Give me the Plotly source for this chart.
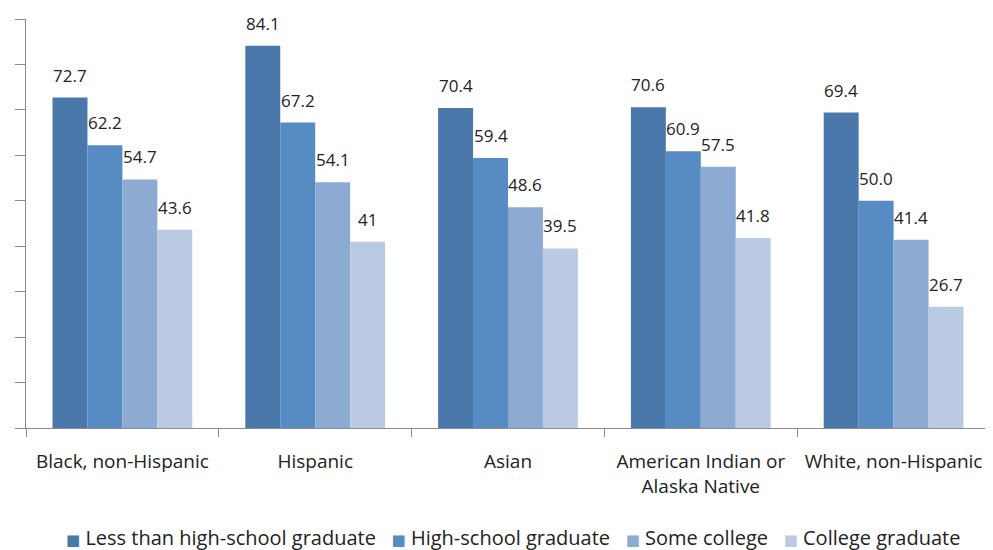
import plotly.graph_objects as go

categories = ["Black, non-Hispanic", "Hispanic", "Asian", "American Indian or<br>Alaska Native", "White, non-Hispanic"]
series_names = ["Less than high-school graduate", "High-school graduate", "Some college", "College graduate"]
less_than_hs = [72.7, 84.1, 70.4, 70.6, 69.4]
hs_grad = [62.2, 67.2, 59.4, 60.9, 50.0]
some_college = [54.7, 54.1, 48.6, 57.5, 41.4]
college_grad = [43.6, 41, 39.5, 41.8, 26.7]
label_text = [
    ["72.7", "84.1", "70.4", "70.6", "69.4"],
    ["62.2", "67.2", "59.4", "60.9", "50.0"],
    ["54.7", "54.1", "48.6", "57.5", "41.4"],
    ["43.6", "41", "39.5", "41.8", "26.7"],
]
colors = ["#4A78AA", "#568BC3", "#8DAAD3", "#BACAE3"]

series = [less_than_hs, hs_grad, some_college, college_grad]
FONT = "Open Sans, sans-serif"
TXT = "#222222"

fig = go.Figure()
for name, vals, col in zip(series_names, series, colors):
    fig.add_trace(go.Bar(name=name, x=categories, y=vals, marker=dict(color=col, line=dict(width=0)),
                         hoverinfo="skip", showlegend=False))

bargap = 0.275
w = (1 - bargap) / 4
annotations = []
for j, (vals, texts) in enumerate(zip(series, label_text)):
    for i, (v, t) in enumerate(zip(vals, texts)):
        annotations.append(dict(x=i + (j - 1.5) * w, y=v, xref="x", yref="y", text=t, showarrow=False,
                                yanchor="bottom", yshift=9, font=dict(family=FONT, size=17, color=TXT)))

# legend row (colored squares + series names)
legend_parts = [f"<span style='color:{c};font-family:DejaVu Sans;font-size:15px'>■</span> {n}"
                for n, c in zip(series_names, colors)]
annotations.append(dict(x=0.505, y=-0.268, xref="paper", yref="paper", xanchor="center", yanchor="middle",
                        text="&nbsp;&nbsp;&nbsp;".join(legend_parts), showarrow=False,
                        font=dict(family=FONT, size=20, color=TXT)))

fig.update_layout(
    barmode="group", bargap=bargap, bargroupgap=0,
    width=985, height=542,
    margin=dict(l=18, r=3, t=11, b=122),
    plot_bgcolor="white", paper_bgcolor="white",
    font=dict(family=FONT, size=20, color=TXT),
    annotations=annotations,
    showlegend=False,
)
fig.update_xaxes(showline=True, linecolor="#8c8c8c", linewidth=1, ticks="outside", ticklen=8,
                 tickcolor="#8c8c8c", tickson="boundaries", showgrid=False, automargin=False,
                 tickangle=0, ticklabelstandoff=16, tickfont=dict(family=FONT, size=19, color=TXT))
fig.update_yaxes(range=[0, 90], dtick=10, showline=True, linecolor="#8c8c8c", linewidth=1,
                 ticks="outside", ticklen=10, tickcolor="#8c8c8c", showticklabels=False,
                 showgrid=False, zeroline=False, automargin=False)

fig.write_html("out.html")
